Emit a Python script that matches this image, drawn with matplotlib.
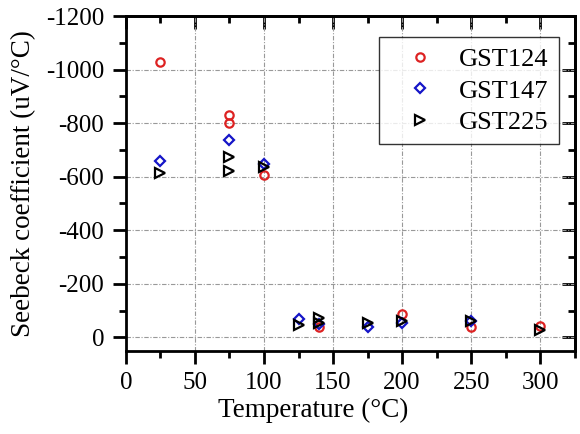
import numpy as np
import matplotlib
matplotlib.use("Agg")
import matplotlib.pyplot as plt

plt.rcParams["font.family"] = ["Liberation Serif", "DejaVu Serif"]
plt.rcParams["axes.unicode_minus"] = False

# ── Data ──────────────────────────────────────────────────────────────────
t_124 = [25, 75, 75, 100, 140, 200, 250, 300]
s_124 = [-1030, -830, -800, -605, -40, -88, -37, -42]

t_147 = [25, 75, 100, 125, 140, 175, 200, 250]
s_147 = [-660, -737, -646, -70, -48, -38, -55, -62]

t_225 = [25, 75, 75, 100, 125, 140, 140, 175, 200, 250, 300]
s_225 = [-615, -675, -620, -638, -45, -72, -52, -55, -60, -60, -28]

x_major = np.arange(0, 301, 50)
x_minor = np.arange(25, 326, 50)
y_major = np.arange(0, -1201, -200)
y_minor = np.arange(-100, -1201, -200)

# ── Plot ──────────────────────────────────────────────────────────────────
fig = plt.figure(figsize=(5.8, 4.34), dpi=100)
ax = fig.add_axes([0.217, 0.192, 0.774, 0.771])

ms, mew = 6, 1.6
ax.plot(t_124, s_124, "o", ls="none", mfc="none", mec="#dd2222", ms=ms, mew=mew, label="GST124")
ax.plot(t_147, s_147, "D", ls="none", mfc="none", mec="#1515c8", ms=ms - 0.5, mew=mew, label="GST147")
ax.plot(t_225, s_225, ">", ls="none", mfc="none", mec="black", ms=ms + 0.5, mew=mew, label="GST225")

ax.set_xlim(0, 325)
ax.set_ylim(50, -1200)
ax.set_xticks(x_major)
ax.set_yticks(y_major)
ax.set_xticks(x_minor, minor=True)
ax.set_yticks(y_minor, minor=True)

ax.grid(True, which="major", color="#999999", ls=(0, (4, 1.5, 1, 1.5)), lw=0.8)

for s in ax.spines.values():
    s.set_linewidth(2)

ax.tick_params(which="major", direction="out", length=9.5, width=2, labelsize=18, pad=6)
ax.tick_params(which="minor", direction="out", length=5, width=2)

# mirrored ticks on top / right, pointing inward, no labels
sx = ax.secondary_xaxis("top")
sx.set_xticks(x_major)
sx.set_xticks(x_minor, minor=True)
sx.tick_params(which="major", direction="in", length=9.5, width=2, labeltop=False)
sx.tick_params(which="minor", direction="in", length=5, width=2)
sx.spines["top"].set_linewidth(2)

sy = ax.secondary_yaxis("right")
sy.set_yticks(y_major)
sy.set_yticks(y_minor, minor=True)
sy.tick_params(which="major", direction="in", length=9.5, width=2, labelright=False)
sy.tick_params(which="minor", direction="in", length=5, width=2)
sy.spines["right"].set_linewidth(2)

ax.set_xlabel("Temperature (\u00b0C)", fontsize=19.5)
ax.set_ylabel("Seebeck coefficient (uV/\u00b0C)", fontsize=19.5)
ax.xaxis.set_label_coords(0.417, -0.14)
ax.yaxis.set_label_coords(-0.2, 0.5)

leg = ax.legend(loc="upper right", fontsize=19, frameon=True, fancybox=False,
                edgecolor="black", handlelength=2.3, handletextpad=0.33,
                borderpad=0.4, labelspacing=0.3, borderaxespad=0,
                bbox_to_anchor=(0.964, 0.937))
leg.get_frame().set_linewidth(1.0)

fig.savefig("out.png", dpi=100)
